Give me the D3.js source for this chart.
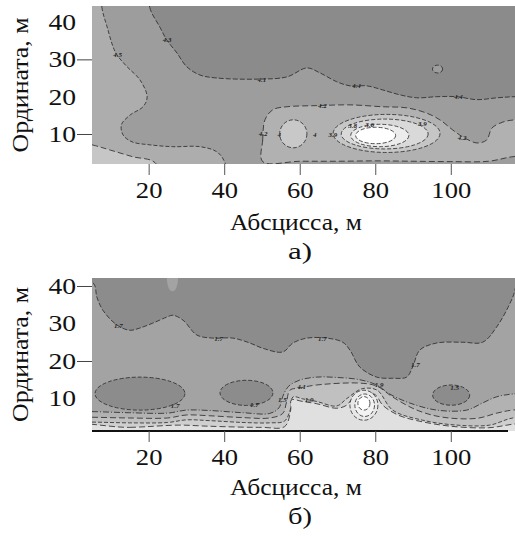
<!DOCTYPE html>
<html>
<head>
<meta charset="utf-8">
<title>Contour maps</title>
<script src="https://d3js.org/d3.v7.min.js"></script>
<style>
  body { margin: 0; background: #fff; }
  text { font-family: "Liberation Serif", "Times New Roman", serif; }
</style>
</head>
<body>
<svg id="chart"></svg>
<script>
// axis values
const xDomain = [5, 117];
const xTicks = [20, 40, 60, 80, 100];
const yTicks = [10, 20, 30, 40];

// ---- panel a) : isoline areas in metres (x, y) ----
const aDark = [[20.3, 50], [20.3, 43.9], [23, 38.6], [24.8, 35.2], [27.5, 31.7], [30.1, 28], [33.6, 25.8],
  [38.1, 25], [48.7, 24.7], [56.6, 25.3], [61.9, 27.7], [65.3, 26.4], [69.8, 24], [73.3, 22.9], [77.8, 22.9],
  [82, 21.8], [86.5, 20.5], [91, 19.7], [96.3, 20], [101.6, 20], [106.9, 19.2], [112.2, 19.7], [117, 20],
  [125, 20], [125, 50]];
const aLeft = [[7.6, 50], [7.6, 44], [9, 38.7], [10.6, 33.3], [11.6, 31.2], [14.3, 28], [17.7, 24.5],
  [19.6, 19.9], [18.5, 17.3], [15.1, 15.1], [12.8, 12.5], [13.2, 9.8], [15.6, 7.9], [20.3, 7.1], [26.4, 6.6],
  [33.6, 6.6], [38.1, 5.2], [40.2, 2.3], [41, -5], [-5, -5], [-5, 50]];
const aCorner = [[-5, 9], [5, 7.1], [9.8, 5.7], [15.8, 3.9], [21.7, 2.3], [24, -5], [-5, -5]];
const aMiddle = [[50.2, 2.6], [50.2, 8.4], [50.8, 13.8], [52.9, 16.5], [56.6, 17.3], [64.5, 17.6], [73.3, 17.8],
  [82, 17.3], [88.4, 17], [93.6, 15.6], [97.1, 13.8], [100.5, 11.1], [103.2, 9.2], [106.9, 7.6], [109.5, 8.4],
  [110.9, 11.6], [113.8, 13.2], [117, 13.8], [125, 14], [125, 4], [117, 4], [110, 2.7], [100, 2.6], [90, 2.7],
  [80, 2.8], [70, 2.7], [60, 2.7]];
// closed isolines: centre x, centre y, half-width, half-height
const aSpots = [[96.5, 27.4, 1.35, 1.05], [58.3, 10.05, 3.6, 3.75], [83, 10.15, 14.15, 5.1],
  [82.5, 10, 11.5, 4], [81.2, 9.6, 7.7, 3], [80.1, 9.6, 5.3, 2.2]];
const aLabels = [[11.8, 31.2, "4.5"], [24.9, 35.2, "4.3"], [50, 24.7, "4.1"], [75, 22.9, "4.4"],
  [102, 20, "4.4"], [66, 17.6, "4.2"], [50.3, 10, "4.2"], [54.6, 9.8, "4"], [64, 9.8, "4"],
  [68.8, 9.8, "3.9"], [74, 12.3, "3.8"], [78.5, 12.4, "3.6"], [92.5, 12.7, "3.9"], [103, 9, "4.2"]];

// ---- panel б) ----
const bDark = [[-5, 44], [5.3, 40.8], [6.3, 37], [7.9, 33.5], [11.6, 29.6], [15, 28.2], [17.7, 28.8], [21.1, 30.1],
  [24.8, 31.7], [26.4, 32.2], [29.1, 30.9], [32.8, 26.9], [37, 26.1], [42.3, 26.1], [46.8, 24.8], [50.2, 23.4],
  [55.5, 22.4], [58.2, 24.8], [61.9, 26.1], [67.2, 26.1], [71.4, 25], [73.3, 22.9], [75.9, 18.4], [80.4, 15.7],
  [84.6, 15.4], [88.3, 15.7], [89.9, 18.4], [91.8, 22.9], [96.3, 24.8], [103.2, 25], [108.4, 25], [112.1, 29],
  [116.4, 37], [118, 42], [125, 50], [-5, 50]];
const bBand1 = [[-5, 6.6], [5, 6.5], [15, 6.2], [25, 6.1], [30, 6.9], [36, 6.8], [45, 6.2], [52, 6], [54.5, 7.5],
  [55.5, 10.5], [57, 13.2], [60, 14.9], [64.5, 15.7], [70, 15.6], [75.9, 15], [80.4, 13.6], [83.8, 11.2],
  [89.1, 8.8], [96.3, 6.9], [104.2, 6.9], [108.4, 8.8], [112, 10.4], [116.4, 11.2], [125, 11.5], [125, -5], [-5, -5]];
const bBand2 = [[-5, 5.1], [5, 5], [15, 4.8], [25, 4.8], [30, 5.6], [36, 5.4], [45, 4.9], [52, 4.8], [55.5, 6],
  [56.5, 9], [57.4, 12.2], [60, 12.8], [64.5, 13.6], [75.9, 14.1], [80.4, 13.3], [84.6, 10.4], [91, 6.9],
  [97.9, 5], [106.9, 4.7], [112.2, 6.1], [116.4, 6.9], [125, 7], [125, -5], [-5, -5]];
const bBand3 = [[-5, 3.7], [5, 3.7], [15, 3.5], [25, 3.6], [30, 4.3], [36, 4.1], [45, 3.6], [52, 3.5], [56, 4],
  [57.5, 7], [58.2, 10.4], [60.8, 9.9], [64.5, 9.2], [69.8, 8], [72.5, 10], [76.5, 12.6], [80.5, 12.2],
  [84.6, 6.9], [92.6, 4.2], [101.6, 2.9], [110.3, 2.9], [116.4, 4.8], [125, 5], [125, -5], [-5, -5]];
const bBand4 = [[-5, 2.4], [15, 2.3], [28, 2.9], [36, 2.6], [50, 2.3], [56, 2.5], [57.6, 6.9], [57.8, 9.6],
  [60.8, 9.2], [64.5, 8.6], [69.8, 7.4], [72.4, 8.2], [74, 10], [77, 11.6], [80, 11], [82, 8.2], [86, 5.6],
  [91, 4.1], [100, 2.6], [110, 2.2], [117, 3.2], [125, 3.5], [125, -5], [-5, -5]];
const bSpots = [[17.7, 11.3, 11.9, 4.4], [45.9, 11.5, 7, 3.35], [100.1, 10.9, 4.9, 2.7], [26.3, 42.1, 1.5, 3.5],
  [77, 8.2, 3.7, 4], [77.2, 8.2, 2.6, 3], [77, 8.7, 1.6, 1.8]];
const bLabels = [[12, 29.5, "1.7"], [38.5, 26.1, "1.7"], [66, 26.1, "1.7"], [90.6, 19, "1.7"], [27, 8.2, "1.7"],
  [48, 8.3, "1.7"], [101, 13, "1.5"], [55.4, 9.8, "1.5"], [60.5, 13.2, "4.1"], [62.5, 9.6, "1.9"], [81, 13.6, "1.9"]];

const W = 515, H = 539;
const FONT = '"Liberation Serif", "Times New Roman", serif';
const svg = d3.select('#chart').attr('width', W).attr('height', H);

function panel(o) {
  const x = d3.scaleLinear().domain(xDomain).range([92, W]);
  const y = d3.scaleLinear().domain(o.yDomain).range([o.bottom, o.top]);
  const g = svg.append('g');

  g.append('clipPath').attr('id', 'clip-' + o.name)
    .append('rect').attr('x', 92).attr('y', o.top).attr('width', W - 92).attr('height', o.bottom - o.top);
  const plot = g.append('g').attr('clip-path', 'url(#clip-' + o.name + ')');

  plot.append('rect').attr('x', 92).attr('y', o.top).attr('width', W - 92).attr('height', o.bottom - o.top)
    .attr('fill', o.bg);

  const area = d3.line().x(d => x(d[0])).y(d => y(d[1])).curve(d3.curveCatmullRomClosed.alpha(0.5));
  o.areas.forEach((pts, i) => {
    plot.append('path').attr('d', area(pts))
      .attr('fill', o.areaFills[i]).attr('stroke', '#262626')
      .attr('stroke-width', 0.8).attr('stroke-dasharray', o.areaDash[i]);
  });

  o.spots.forEach((s, i) => {
    plot.append('ellipse')
      .attr('cx', x(s[0])).attr('cy', y(s[1]))
      .attr('rx', x(s[0] + s[2]) - x(s[0])).attr('ry', y(s[1] - s[3]) - y(s[1]))
      .attr('fill', o.spotFills[i]).attr('stroke', o.spotStroke[i])
      .attr('stroke-width', 0.8).attr('stroke-dasharray', '4,2');
  });

  plot.selectAll('text.lbl').data(o.labels).join('text').attr('class', 'lbl')
    .attr('x', d => x(d[0])).attr('y', d => y(d[1]))
    .attr('dy', '0.35em').attr('text-anchor', 'middle')
    .attr('font-size', 7).attr('font-style', 'italic').attr('font-weight', 'bold')
    .attr('fill', '#222').text(d => d[2]);

  // x axis
  const ax = g.append('g').attr('transform', 'translate(0,' + o.bottom + ')')
    .call(d3.axisBottom(x).tickValues(xTicks).tickSize(11).tickSizeOuter(0).tickPadding(7));
  ax.attr('font-family', FONT);
  ax.selectAll('text').attr('font-size', 23).attr('fill', '#111')
    .attr('textLength', d => String(d).length * 13.3).attr('lengthAdjust', 'spacingAndGlyphs');
  ax.selectAll('.tick line').attr('stroke', '#555');
  if (o.baseLine) {
    ax.select('.domain').attr('stroke', '#111').attr('stroke-width', 2.2).attr('d', 'M92,0H508');
  } else {
    ax.select('.domain').remove();
  }

  // y axis
  const ay = g.append('g').attr('transform', 'translate(92,0)')
    .call(d3.axisLeft(y).tickValues(yTicks).tickSize(15).tickPadding(1));
  ay.attr('font-family', FONT);
  ay.select('.domain').remove();
  ay.selectAll('text').attr('font-size', 23).attr('fill', '#111')
    .attr('textLength', d => String(d).length * 13.8).attr('lengthAdjust', 'spacingAndGlyphs');
  ay.selectAll('.tick line').attr('stroke', d => o.yTickShown.includes(d) ? '#444' : 'none');

  g.append('text').attr('transform', 'translate(28,' + (o.top + o.bottom) / 2 + ') rotate(-90)')
    .attr('text-anchor', 'middle').attr('font-size', 23).attr('fill', '#111')
    .attr('textLength', 135).attr('lengthAdjust', 'spacingAndGlyphs').text('Ордината, м');
  g.append('text').attr('x', 296).attr('y', o.titleY).attr('text-anchor', 'middle')
    .attr('font-size', 23).attr('fill', '#111')
    .attr('textLength', 132).attr('lengthAdjust', 'spacingAndGlyphs').text('Абсцисса, м');
  g.append('text').attr('x', 300).attr('y', o.captionY).attr('text-anchor', 'middle')
    .attr('font-size', 23).attr('fill', '#111')
    .attr('textLength', 24).attr('lengthAdjust', 'spacingAndGlyphs').text(o.caption);
}

panel({
  name: 'a', top: 6, bottom: 164, yDomain: [1.96, 44.3], bg: '#9d9d9d',
  areas: [aDark, aLeft, aCorner, aMiddle],
  areaFills: ['#8b8b8b', '#adadad', '#c6c6c6', '#b1b1b1'],
  areaDash: ['5,2', '4,2', '6,3', '6,3'],
  spots: aSpots,
  spotFills: ['#9d9d9d', '#c8c8c8', '#c6c6c6', '#d9d9d9', '#ececec', '#ffffff'],
  spotStroke: ['#262626', '#262626', '#262626', '#262626', '#262626', '#262626'],
  labels: aLabels, yTickShown: [10, 30], baseLine: false,
  titleY: 230, captionY: 259, caption: 'а)'
});

panel({
  name: 'b', top: 278, bottom: 431, yDomain: [1.33, 42.13], bg: '#a3a3a3',
  areas: [bDark, bBand1, bBand2, bBand3, bBand4],
  areaFills: ['#8c8c8c', '#b2b2b2', '#c0c0c0', '#cfcfcf', '#e0e0e0'],
  areaDash: ['5,2', '6,2,1,2', '6,3', '4,2', '6,3'],
  spots: bSpots,
  spotFills: ['#8c8c8c', '#8c8c8c', '#8c8c8c', '#a3a3a3', '#e9e9e9', '#f3f3f3', '#ffffff'],
  spotStroke: ['#262626', '#262626', '#262626', 'none', '#262626', '#262626', '#262626'],
  labels: bLabels, yTickShown: [20, 40], baseLine: true,
  titleY: 495, captionY: 524, caption: 'б)'
});
</script>
</body>
</html>
